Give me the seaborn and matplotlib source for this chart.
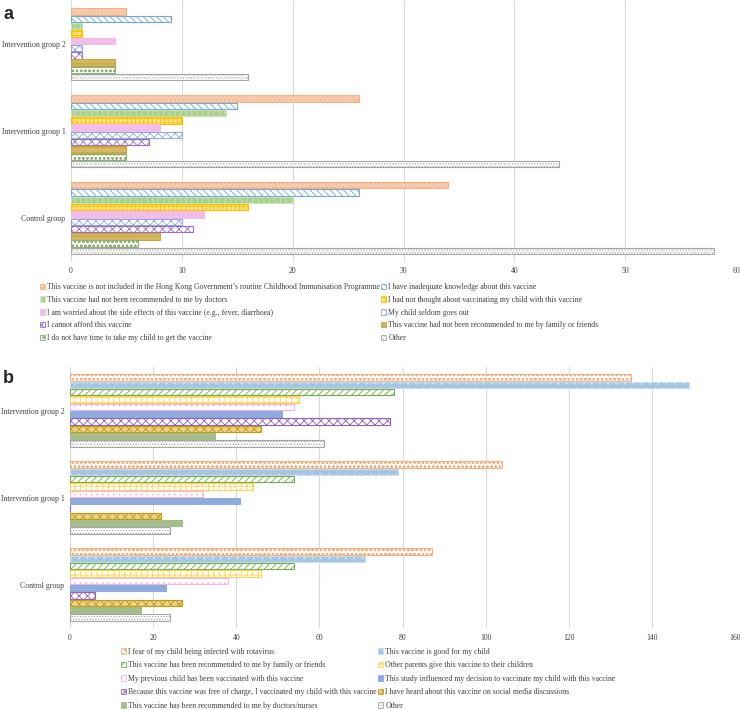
import numpy as np
import pandas as pd
import matplotlib
matplotlib.use('Agg')
import matplotlib.pyplot as plt
from matplotlib.patches import Patch
import seaborn as sns

sns.set_style('white')
plt.rcParams['font.family'] = ['Liberation Serif', 'DejaVu Serif']
plt.rcParams['hatch.linewidth'] = 0.6

groups = ['Intervention group 2', 'Intervention group 1', 'Control group']

# panel a: reasons for not vaccinating
reasons_a = [
    'This vaccine is not included in the Hong Kong Government\u2019s routine Childhood Immunisation Programme',
    'I have inadequate knowledge about this vaccine',
    'This vaccine had not been recommended to me by doctors',
    'I had not thought about vaccinating my child with this vaccine',
    'I am worried about the side effects of this vaccine (e.g., fever, diarrhoea)',
    'My child seldom goes out',
    'I cannot afford this vaccine',
    'This vaccine had not been recommended to me by family or friends',
    'I do not have time to take my child to get the vaccine',
    'Other',
]
int2_a = [5, 9, 1, 1, 4, 1, 1, 4, 4, 16]
int1_a = [26, 15, 14, 10, 8, 10, 7, 5, 5, 44]
ctrl_a = [34, 26, 20, 16, 12, 10, 11, 8, 6, 58]

# panel b: reasons for vaccinating
reasons_b = [
    'I fear of my child being infected with rotavirus',
    'This vaccine is good for my child',
    'This vaccine has been recommended to me by family or friends',
    'Other parents give this vaccine to their children',
    'My previous child has been vaccinated with this vaccine',
    'This study influenced my decision to vaccinate my child with this vaccine',
    'Because this vaccine was free of charge, I vaccinated my child with this vaccine',
    'I have heard about this vaccine on social media discussions',
    'This vaccine has been recommended to me by doctors/nurses',
    'Other',
]
int2_b = [135, 149, 78, 55, 54, 51, 77, 46, 35, 61]
int1_b = [104, 79, 54, 44, 32, 41, 0, 22, 27, 24]
ctrl_b = [87, 71, 54, 46, 38, 23, 6, 27, 17, 24]

# (facecolor, edgecolor, hatch)
styles_a = [
    ('#F8CBAD', '#F4B183', '....'),
    ('white', '#6FA8DC', '\\\\\\\\\\'),
    ('#A9D18E', '#C9E3B8', '|||'),
    ('#FFE38A', '#FFC000', '++++'),
    ('#F2BCEB', '#F2BCEB', ''),
    ('white', '#8FAADC', 'xxxx'),
    ('white', '#9A6FC3', 'xxxx'),
    ('#D6B85E', '#C7A447', '---'),
    ('white', '#8BB174', 'oooo'),
    ('white', '#A6A6A6', '......'),
]
styles_b = [
    ('white', '#F4B183', 'oooo'),
    ('#A4C6E4', '#C9DDF0', '..'),
    ('white', '#70AD47', '/////'),
    ('white', '#FFD34D', '+++'),
    ('white', '#F4B6E8', '...'),
    ('#8FAADC', '#8FAADC', ''),
    ('white', '#8E62BF', 'xxxx'),
    ('#EAD48C', '#C49A12', 'xxxx'),
    ('#A3BD8B', '#A3BD8B', ''),
    ('white', '#A6A6A6', '......'),
]


def make_df(reasons, series):
    rows = []
    for g, vals in zip(groups, series):
        for r, v in zip(reasons, vals):
            rows.append({'group': g, 'reason': r, 'count': v})
    return pd.DataFrame(rows)


def draw_panel(ax, df, reasons, styles, xmax, xstep):
    sns.barplot(data=df, x='count', y='group', hue='reason', orient='h',
                order=groups, hue_order=reasons, width=0.84, gap=0.12,
                legend=False, ax=ax, linewidth=0.8)
    for cont, (fc, ec, h) in zip(ax.containers, styles):
        for p in cont:
            p.set_facecolor(fc)
            p.set_edgecolor(ec)
            p.set_hatch(h)
    ax.set_xlim(0, xmax)
    ax.set_ylim(2.5, -0.5)
    ax.set_xticks(np.arange(0, xmax + 1, xstep))
    ax.grid(axis='x', color='#D9D9D9', linewidth=0.8)
    ax.set_axisbelow(True)
    sns.despine(ax=ax, left=True, bottom=True)
    ax.tick_params(axis='both', length=0, labelsize=5.6, colors='#404040')
    ax.tick_params(axis='x', pad=4)
    ax.tick_params(axis='y', pad=4)
    ax.set_xlabel('')
    ax.set_ylabel('')


def add_legend(fig, reasons, styles, x, y, spacing):
    handles = [Patch(facecolor=fc, edgecolor=ec, hatch=h, linewidth=0.6, label=r)
               for r, (fc, ec, h) in zip(reasons, styles)]
    # legend fills column-wise; reorder so it reads row by row
    order = [0, 2, 4, 6, 8, 1, 3, 5, 7, 9]
    handles = [handles[i] for i in order]
    fig.legend(handles=handles, loc='upper left', bbox_to_anchor=(x, y),
               ncol=2, frameon=False, fontsize=5.6, handlelength=0.7,
               handleheight=0.7, handletextpad=0.25, columnspacing=0.1,
               labelspacing=spacing, borderaxespad=0, borderpad=0,
               labelcolor='#404040')


fig = plt.figure(figsize=(7.4, 7.1), dpi=100)

ax_a = fig.add_axes([71 / 740, 1 - 261.5 / 710, 665 / 740, 260.5 / 710])
draw_panel(ax_a, make_df(reasons_a, [int2_a, int1_a, ctrl_a]), reasons_a, styles_a, 60, 10)
add_legend(fig, reasons_a, styles_a, 40 / 740, 1 - 283 / 710, 0.62)

ax_b = fig.add_axes([70 / 740, 1 - 628 / 710, 665 / 740, 261 / 710])
draw_panel(ax_b, make_df(reasons_b, [int2_b, int1_b, ctrl_b]), reasons_b, styles_b, 160, 20)
add_legend(fig, reasons_b, styles_b, 121 / 740, 1 - 647.5 / 710, 0.72)

fig.text(3 / 740, 1 - 6 / 710, 'a', fontsize=13, fontweight='bold', va='top',
         family='Liberation Sans')
fig.text(3 / 740, 1 - 370 / 710, 'b', fontsize=13, fontweight='bold', va='top',
         family='Liberation Sans')

fig.savefig('out.png', dpi=100)
